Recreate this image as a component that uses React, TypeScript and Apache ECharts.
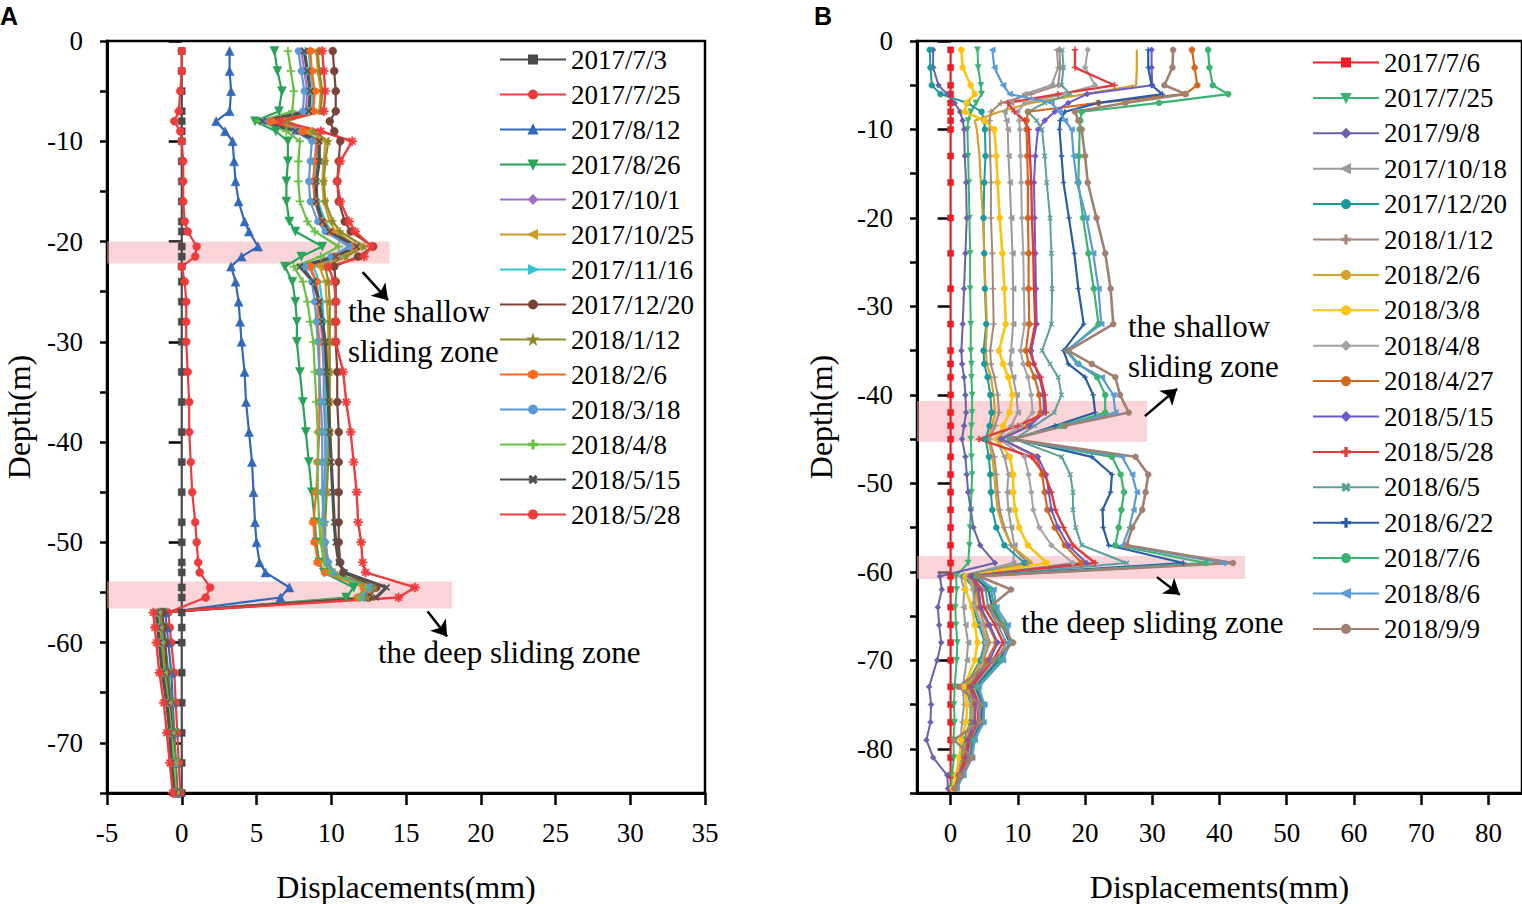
import React, { useEffect, useRef } from "react";
import * as echarts from "echarts";

const FONT = "Liberation Serif";

// ---------------- Panel A data ----------------
const depthA = [-1, -3, -5, -7, -8, -9, -10, -12, -14, -16, -18, -19, -20.5, -21.5, -22.5, -24, -26, -28, -30, -33, -36, -39, -42, -45, -48, -50, -52, -53, -54.5, -55.5, -57, -58.5, -60, -63, -66, -69, -72, -75];
const datesA = ["2017/7/3", "2017/7/25", "2017/8/12", "2017/8/26", "2017/10/1", "2017/10/25", "2017/11/16", "2017/12/20", "2018/1/12", "2018/2/6", "2018/3/18", "2018/4/8", "2018/5/15", "2018/5/28"];
const A_2017_7_3 = [0, 0, 0, 0, 0, 0, 0, 0, 0, 0, 0, 0, 0, 0, 0, 0, 0, 0, 0, 0, 0, 0, 0, 0, 0, 0, 0, 0, 0, 0, 0, 0, 0, 0, 0, 0, 0, 0];
const A_2017_7_25 = [0, 0, -0.1, -0.2, -0.5, -0.1, 0, 0.1, 0.1, 0.1, 0.2, 0.4, 1.0, 0.9, 0, 0.2, 0.3, 0.3, 0.3, 0.4, 0.5, 0.5, 0.6, 0.7, 0.9, 1.0, 1.1, 1.2, 1.9, 1.6, -0.9, -0.8, -0.7, -0.5, -0.4, -0.3, -0.2, -0.1];
const A_2017_8_12 = [3.2, 3.2, 3.3, 3.2, 2.3, 2.9, 3.4, 3.5, 3.6, 3.8, 4.2, 4.5, 5.1, 4.0, 3.3, 3.6, 3.8, 3.9, 4.0, 4.2, 4.3, 4.5, 4.7, 4.8, 4.9, 5.0, 5.2, 5.6, 7.2, 6.6, -1.1, -1.0, -0.9, -0.7, -0.6, -0.5, -0.4, -0.3];
const A_2017_8_26 = [6.2, 6.4, 6.7, 6.5, 4.9, 6.3, 7.1, 7.1, 7.0, 7.0, 7.2, 7.6, 9.4, 8.0, 6.9, 7.4, 7.6, 7.7, 7.7, 7.9, 8.1, 8.3, 8.5, 8.7, 8.9, 9.0, 9.2, 9.5, 11.5, 11.0, -1.3, -1.2, -1.1, -0.9, -0.7, -0.5, -0.4, -0.3];
const A_2017_10_1 = [8.0, 8.2, 8.4, 8.3, 5.8, 7.8, 9.0, 8.9, 8.8, 8.9, 9.3, 9.8, 11.3, 10.2, 8.5, 9.0, 9.2, 9.3, 9.4, 9.5, 9.5, 9.6, 9.6, 9.5, 9.4, 9.5, 9.7, 10.0, 12.6, 12.2, -1.4, -1.3, -1.2, -1.0, -0.8, -0.6, -0.5, -0.3];
const A_2017_10_25 = [9.0, 9.1, 9.3, 9.2, 6.6, 8.5, 9.6, 9.5, 9.4, 9.5, 9.9, 10.3, 11.8, 10.8, 9.2, 9.6, 9.7, 9.8, 9.8, 9.8, 9.8, 9.8, 9.7, 9.6, 9.4, 9.4, 9.6, 10.0, 12.8, 12.3, -1.5, -1.4, -1.3, -1.0, -0.8, -0.6, -0.5, -0.4];
const A_2017_11_16 = [8.5, 8.6, 8.8, 8.7, 6.2, 8.2, 9.2, 9.0, 9.0, 9.1, 9.6, 10.0, 11.6, 10.5, 8.8, 9.2, 9.4, 9.5, 9.5, 9.6, 9.6, 9.7, 9.7, 9.6, 9.5, 9.6, 9.8, 10.1, 12.9, 12.4, -1.5, -1.4, -1.3, -1.1, -0.9, -0.7, -0.5, -0.4];
const A_2017_12_20 = [10.1, 10.2, 10.3, 10.3, 9.9, 10.2, 10.6, 10.5, 10.4, 10.5, 10.9, 11.3, 12.8, 11.8, 10.2, 10.3, 10.3, 10.3, 10.3, 10.4, 10.4, 10.5, 10.5, 10.5, 10.5, 10.5, 10.6, 10.8, 13.0, 12.5, -1.3, -1.2, -1.1, -1.0, -0.8, -0.6, -0.5, -0.3];
const A_2018_1_12 = [9.1, 9.2, 9.4, 9.3, 7.0, 8.8, 9.8, 9.6, 9.5, 9.6, 10.1, 10.6, 12.2, 11.0, 9.6, 9.8, 9.9, 9.9, 9.9, 9.9, 9.9, 9.9, 9.8, 9.7, 9.6, 9.6, 9.8, 10.2, 12.9, 12.4, -1.5, -1.4, -1.3, -1.1, -0.9, -0.7, -0.5, -0.4];
const A_2018_2_6 = [8.6, 8.7, 8.9, 8.8, 6.0, 8.1, 9.1, 8.9, 8.8, 8.9, 9.4, 9.9, 11.5, 10.3, 8.6, 9.0, 9.1, 9.1, 9.2, 9.2, 9.2, 9.2, 9.1, 9.0, 8.8, 8.9, 9.1, 9.6, 12.2, 11.8, -1.6, -1.5, -1.4, -1.2, -0.9, -0.7, -0.5, -0.4];
const A_2018_3_18 = [7.8, 8.0, 8.2, 8.1, 5.4, 7.6, 8.7, 8.6, 8.5, 8.6, 9.1, 9.6, 11.2, 10.0, 8.2, 8.7, 8.9, 9.0, 9.1, 9.2, 9.3, 9.4, 9.4, 9.4, 9.5, 9.6, 9.8, 10.1, 12.5, 12.0, -1.6, -1.5, -1.4, -1.2, -0.9, -0.7, -0.5, -0.4];
const A_2018_4_8 = [7.1, 7.3, 7.5, 7.4, 5.2, 7.0, 7.9, 7.8, 7.8, 7.9, 8.4, 8.9, 10.5, 9.3, 7.5, 8.1, 8.4, 8.6, 8.8, 8.9, 9.0, 9.1, 9.1, 9.1, 9.2, 9.3, 9.5, 9.9, 12.3, 11.9, -1.6, -1.5, -1.4, -1.2, -0.9, -0.7, -0.5, -0.4];
const A_2018_5_15 = [8.2, 8.4, 8.6, 8.5, 5.4, 7.6, 9.2, 9.2, 9.0, 9.0, 9.4, 9.9, 11.7, 10.3, 7.9, 8.8, 9.2, 9.4, 9.6, 9.7, 9.8, 9.9, 10.0, 10.1, 10.2, 10.3, 10.5, 10.9, 13.7, 13.0, -1.7, -1.6, -1.5, -1.3, -1.0, -0.8, -0.7, -0.5];
const A_2018_5_28 = [9.4, 9.5, 9.6, 9.5, 6.6, 9.3, 11.4, 10.6, 10.4, 10.6, 11.2, 11.6, 12.7, 12.2, 9.8, 10.2, 10.3, 10.3, 10.3, 10.8, 11.0, 11.3, 11.5, 11.7, 11.8, 12.0, 12.1, 12.3, 15.6, 14.5, -1.9, -1.8, -1.7, -1.5, -1.2, -1.0, -0.8, -0.6];
const valuesA = [A_2017_7_3, A_2017_7_25, A_2017_8_12, A_2017_8_26, A_2017_10_1, A_2017_10_25, A_2017_11_16, A_2017_12_20, A_2018_1_12, A_2018_2_6, A_2018_3_18, A_2018_4_8, A_2018_5_15, A_2018_5_28];
const ticksA_x = [-5, 0, 5, 10, 15, 20, 25, 30, 35];
const ticksA_y = [-70, -60, -50, -40, -30, -20, -10, 0];
// sliding zone bands [depthTop, depthBottom, xRight]
const bandsA = [[-20, -22.2, 13.9], [-53.9, -56.6, 18.1]];
// arrows [x1, d1, x2, d2]
const arrowsA = [[12.1, -23.05, 13.8, -25.85], [16.45, -56.9, 17.75, -59.4]];

// ---------------- Panel B data ----------------
const depthB = [-1, -3, -5, -6, -7, -8, -9, -10, -13, -16, -20, -24, -28, -32, -35, -36.5, -38, -40, -42, -43.5, -45, -47, -49, -51, -53, -55, -57, -59, -60.5, -62, -64, -66, -68, -70, -73, -75, -77, -79, -81, -83, -84.5];
const datesB = ["2017/7/6", "2017/7/25", "2017/9/8", "2017/10/18", "2017/12/20", "2018/1/12", "2018/2/6", "2018/3/8", "2018/4/8", "2018/4/27", "2018/5/15", "2018/5/28", "2018/6/5", "2018/6/22", "2018/7/6", "2018/8/6", "2018/9/9"];
const B_2017_7_6 = [0, 0, 0, 0, 0, 0, 0, 0, 0, 0, 0, 0, 0, 0, 0, 0, 0, 0, 0, 0, 0, 0, 0, 0, 0, 0, 0, 0, 0, 0, 0, 0, 0, 0, 0, 0, 0, 0, 0, 0, 0];
const B_2017_7_25 = [4.0, 4.1, 4.5, 4.6, 3.8, 3.0, 2.6, 2.5, 2.6, 2.7, 2.8, 2.9, 2.9, 3.0, 3.0, 3.1, 3.1, 3.2, 3.2, 3.1, 3.0, 3.1, 3.2, 3.1, 3.0, 2.9, 2.8, 2.6, 0.8, 0.9, 0.7, 0.8, 1.0, 0.9, 0.6, 0.5, 0.6, 0.4, 0.5, 0.2, 0.1];
const B_2017_9_8 = [-2.6, -2.6, -1.8, -0.5, 0.6, 1.4, 1.8, 2.0, 2.1, 2.3, 2.4, 2.2, 2.0, 1.8, 1.6, 1.7, 2.0, 2.2, 2.3, 2.0, 1.7, 2.2, 2.4, 2.6, 3.0, 3.4, 4.4, 6.6, -1.6, -1.3, -1.9, -1.7, -1.4, -2.0, -3.2, -2.9, -3.0, -3.6, -2.6, -0.5, -0.4];
const B_2017_10_18 = [15.8, 16.0, 15.0, 11.0, 9.0, 8.0, 8.3, 8.5, 8.6, 8.8, 9.0, 9.2, 9.3, 9.3, 9.0, 8.8, 9.3, 9.8, 10.0, 9.0, 6.8, 8.0, 8.6, 8.4, 8.6, 9.0, 9.5, 9.3, 1.5, 2.0, 1.9, 2.2, 2.6, 2.4, 1.8, 2.0, 1.7, 1.5, 1.6, 0.9, 0.6];
const B_2017_12_20 = [-3.1, -3.0, -2.8, -1.5, 2.5, 4.6, 5.0, 5.1, 5.2, 5.0, 4.9, 5.0, 5.1, 5.3, 4.9, 5.0, 5.5, 5.9, 6.1, 5.8, 5.2, 5.7, 5.9, 6.0, 6.2, 6.8, 8.0, 11.0, 2.0, 3.6, 3.3, 4.2, 5.1, 4.4, 2.2, 3.0, 2.9, 2.0, 1.6, 1.0, 0.5];
const B_2018_1_12 = [16.2, 16.3, 16.0, 12.0, 7.5, 6.0, 5.8, 5.8, 5.9, 6.0, 6.0, 6.2, 6.3, 6.4, 5.9, 6.0, 6.5, 7.0, 7.2, 6.6, 5.8, 6.5, 6.8, 7.0, 7.3, 8.0, 9.0, 11.5, 2.2, 4.0, 4.2, 5.0, 5.8, 4.9, 2.5, 3.5, 3.2, 2.3, 1.9, 1.2, 0.5];
const B_2018_2_6 = [27.7, 27.7, 27.6, 20.0, 12.0, 7.3, 3.6, 3.9, 4.3, 4.5, 4.8, 5.0, 5.2, 5.4, 5.2, 5.4, 6.0, 6.4, 6.6, 6.2, 5.6, 6.2, 6.5, 6.7, 7.0, 7.8, 9.0, 12.2, 2.5, 3.8, 3.7, 4.6, 5.5, 4.6, 2.4, 3.2, 3.0, 2.2, 1.8, 1.1, 0.5];
const B_2018_3_8 = [1.6, 1.8, 3.0, 3.6, 2.4, 2.1, 5.0, 6.5, 6.8, 7.0, 7.3, 7.7, 8.0, 8.2, 7.2, 7.8, 8.6, 9.2, 8.8, 7.8, 6.9, 8.8, 9.3, 9.3, 9.6, 10.2, 11.5, 14.3, 2.2, 2.2, 3.2, 3.6, 4.0, 3.6, 2.0, 2.5, 2.3, 1.6, 1.3, 0.8, 0.3];
const B_2018_4_8 = [20.4, 20.0, 21.5, 17.0, 11.0, 10.0, 10.2, 10.3, 10.4, 10.5, 10.6, 10.8, 10.9, 11.0, 10.4, 10.8, 11.5, 12.0, 12.2, 10.5, 7.2, 11.0, 11.6, 12.0, 12.3, 13.2, 15.0, 18.2, 2.6, 3.3, 3.6, 4.6, 5.2, 4.8, 2.9, 3.1, 3.4, 2.7, 2.3, 1.3, 0.6];
const B_2018_4_27 = [35.9, 36.3, 36.7, 34.9, 22.0, 11.5, 11.3, 11.3, 11.4, 11.5, 11.5, 11.6, 11.6, 11.7, 11.2, 11.6, 12.5, 13.2, 13.4, 11.5, 7.5, 12.8, 13.6, 14.0, 14.4, 15.5, 17.0, 19.5, 3.0, 4.0, 4.3, 5.6, 6.8, 5.4, 2.8, 3.6, 3.5, 2.5, 2.0, 1.2, 0.6];
const B_2018_5_15 = [29.9, 29.9, 30.0, 20.3, 17.5, 15.5, 14.0, 13.0, 12.6, 12.4, 12.5, 12.6, 12.7, 12.8, 12.0, 12.4, 13.2, 13.8, 13.9, 11.8, 7.6, 13.0, 14.2, 14.6, 15.0, 16.0, 17.5, 20.2, 3.0, 4.2, 4.5, 5.8, 7.0, 5.8, 3.0, 3.8, 3.6, 2.6, 2.2, 1.3, 0.6];
const B_2018_5_28 = [18.5, 18.5, 24.4, 16.0, 8.5, 9.5, 11.0, 11.6, 11.8, 12.0, 12.1, 12.3, 12.4, 12.6, 11.8, 12.4, 13.4, 14.0, 14.2, 10.0, 4.2, 12.0, 14.0, 15.0, 15.6, 16.8, 18.2, 21.5, 3.3, 4.6, 5.0, 6.6, 7.8, 6.3, 3.2, 4.2, 4.0, 2.9, 2.4, 1.5, 0.7];
const B_2018_6_5 = [16.6, 16.8, 16.5, 17.8, 14.0, 11.5, 12.8, 13.6, 14.0, 14.3, 14.8, 15.0, 15.1, 15.0, 13.6, 14.8, 16.0, 16.5, 15.4, 12.5, 9.5, 16.5, 17.8, 18.2, 18.2, 18.6, 19.5, 26.2, 3.8, 5.2, 5.6, 7.0, 8.3, 6.8, 3.6, 4.6, 4.4, 3.2, 2.8, 1.7, 0.8];
const B_2018_6_22 = [29.4, 29.4, 29.9, 31.5, 22.0, 17.0, 16.3, 16.2, 16.5, 16.8, 17.6, 18.4, 19.0, 19.8, 16.8, 17.5, 20.0, 21.2, 21.5, 15.5, 9.5, 21.0, 24.0, 23.8, 22.6, 22.7, 23.5, 34.6, 3.5, 5.6, 6.2, 7.6, 8.8, 7.2, 3.8, 4.8, 4.6, 3.4, 3.0, 1.8, 0.8];
const B_2018_7_6 = [38.3, 38.5, 39.0, 41.3, 31.0, 19.5, 19.3, 19.2, 19.1, 19.0, 19.7, 20.5, 21.3, 22.0, 17.4, 19.0, 21.8, 23.0, 23.0, 16.5, 8.8, 24.0, 25.3, 25.8, 25.4, 25.0, 24.5, 38.0, 3.8, 6.0, 6.5, 8.0, 9.0, 7.5, 4.0, 5.0, 4.8, 3.5, 3.1, 1.8, 0.8];
const B_2018_8_6 = [6.2, 6.5, 7.8, 8.8, 15.0, 16.2, 17.0, 18.0, 18.3, 18.8, 20.2, 21.2, 22.0, 22.4, 17.2, 18.8, 22.5, 24.2, 24.5, 16.8, 9.0, 25.5, 27.0, 27.7, 27.2, 26.6, 25.6, 40.5, 4.0, 6.4, 6.8, 8.5, 8.8, 7.8, 4.2, 5.0, 4.9, 3.6, 3.2, 1.9, 0.9];
const B_2018_9_9 = [33.1, 33.0, 31.8, 35.0, 26.0, 18.5, 19.0, 19.5, 20.0, 20.4, 21.7, 23.0, 23.8, 24.2, 17.5, 21.0, 24.5, 25.2, 26.5, 17.0, 9.2, 27.5, 29.4, 29.0, 28.5, 27.0, 26.2, 42.0, 4.2, 9.0, 5.8, 7.5, 9.3, 6.3, 1.2, 4.3, 4.3, 0.5, 3.2, 1.5, 0.7];
const valuesB = [B_2017_7_6, B_2017_7_25, B_2017_9_8, B_2017_10_18, B_2017_12_20, B_2018_1_12, B_2018_2_6, B_2018_3_8, B_2018_4_8, B_2018_4_27, B_2018_5_15, B_2018_5_28, B_2018_6_5, B_2018_6_22, B_2018_7_6, B_2018_8_6, B_2018_9_9];
const ticksB_x = [0, 10, 20, 30, 40, 50, 60, 70, 80];
const ticksB_y = [-80, -70, -60, -50, -40, -30, -20, -10, 0];
const bandsB = [[-40.7, -45.3, 29.2], [-58.2, -60.8, 43.8]];
const arrowsB = [[28.9, -42.4, 33.7, -39.3], [30.7, -60.6, 34.1, -62.6]];

// ---------------- symbols & styles ----------------
const PLUS = "path://M-0.8,-5L0.8,-5L0.8,-0.8L5,-0.8L5,0.8L0.8,0.8L0.8,5L-0.8,5L-0.8,0.8L-5,0.8L-5,-0.8L-0.8,-0.8Z";
const ASTER = "path://M-0.8,-5L0.8,-5L0.8,5L-0.8,5Z M-5,-0.8L5,-0.8L5,0.8L-5,0.8Z M4.11,2.97L2.97,4.11L-4.11,-2.97L-2.97,-4.11Z M4.11,-2.97L-2.97,4.11L-4.11,2.97L2.97,-4.11Z";
const HEX = "path://M0,-5L4.33,-2.5L4.33,2.5L0,5L-4.33,2.5L-4.33,-2.5Z";
const STAR = "path://M0,-5L1.18,-1.62L4.76,-1.55L1.9,0.62L2.94,4.05L0,2L-2.94,4.05L-1.9,0.62L-4.76,-1.55L-1.18,-1.62Z";

const styleA: [string, string, number, number, number][] = [
  ["#4a4a4a", "rect", 0, 7, 2.2],
  ["#ef3b3b", "circle", 0, 8, 2.2],
  ["#3468b8", "triangle", 0, 9, 2.2],
  ["#2aa35a", "triangle", 180, 9, 2.2],
  ["#a070c8", "diamond", 0, 8, 2.2],
  ["#cf9a2a", "triangle", 90, 8, 2.2],
  ["#2ec4d0", "triangle", -90, 8, 2.2],
  ["#7a4538", "circle", 0, 8, 2.2],
  ["#8c8c28", STAR, 0, 8, 2.2],
  ["#ff6a1a", HEX, 0, 8, 2.2],
  ["#5b9bd5", "circle", 0, 7, 2.2],
  ["#6cbf45", PLUS, 0, 8, 2.2],
  ["#505050", PLUS, 45, 8, 3.2],
  ["#f03c3c", ASTER, 0, 9, 2.4],
];
const styleB: [string, string, number, number, number][] = [
  ["#ee1c25", "rect", 0, 6, 2.2],
  ["#3cb371", "triangle", 180, 6, 2],
  ["#6a62aa", "diamond", 0, 6, 2],
  ["#9a9a9a", "triangle", 90, 6, 2],
  ["#1a9a9a", "circle", 0, 6, 2],
  ["#a58a7d", PLUS, 0, 6, 2],
  ["#d6a22a", "none", 0, 5, 2.2],
  ["#ffc20e", "circle", 0, 6, 2.6],
  ["#a3a3a3", "diamond", 0, 6, 2],
  ["#d2691e", "circle", 0, 6, 2.2],
  ["#6a5acd", "diamond", 0, 6, 2],
  ["#e03a3a", PLUS, 0, 6, 2.4],
  ["#5f9e9a", PLUS, 45, 6, 2],
  ["#2b5ca8", PLUS, 0, 5, 2.2],
  ["#3cb371", "circle", 0, 6, 2.2],
  ["#5b9bd5", "triangle", 90, 6, 2.2],
  ["#a08070", "circle", 0, 6, 2.6],
];

const textBase = { fontFamily: FONT, color: "#000" };

function buildOption(p: {
  depth: number[]; dates: string[]; values: number[][]; styles: [string, string, number, number, number][];
  xMin: number; xMax: number; xTicks: number[]; xInterval?: number; yMin: number; yTicks: number[];
  bands: number[][]; arrows: number[][]; grid: any; legend: any; texts: any[]; letter: any; yNameGap: number;
}) {
  const series: any[] = p.dates.map((d, i) => {
    const [color, symbol, rot, size, lw] = p.styles[i];
    const s: any = {
      type: "line",
      name: d,
      xAxisIndex: 0,
      yAxisIndex: 0,
      data: p.values[i].map((v, k) => [v, p.depth[k]]),
      symbol,
      symbolRotate: rot,
      symbolSize: size,
      showSymbol: symbol !== "none",
      lineStyle: { color, width: lw },
      itemStyle: { color, borderColor: color, borderWidth: 0.5 },
      emphasis: { disabled: true },
      z: 3,
      silent: true,
    };
    if (i === 0) {
      s.markArea = {
        silent: true,
        itemStyle: { color: "rgba(244,170,180,0.5)" },
        data: p.bands.map((b) => [{ xAxis: p.xMin, yAxis: b[0] }, { xAxis: b[2], yAxis: b[1] }]),
      };
      s.markLine = {
        silent: true,
        symbol: ["none", "arrow"],
        symbolSize: 15,
        label: { show: false },
        lineStyle: { color: "#000", width: 2.5, type: "solid" },
        data: p.arrows.map((a) => [{ coord: [a[0], a[1]] }, { coord: [a[2], a[3]] }]),
      };
    }
    return s;
  });

  const tickStyle = { color: "#000", width: 2.5 };
  const xAxis: any = {
    type: "value",
    min: p.xMin,
    max: p.xMax,
    axisLine: { onZero: false, lineStyle: { color: "#000", width: 3 } },
    axisTick: { length: 12, lineStyle: tickStyle, customValues: p.xTicks },
    axisLabel: { ...textBase, fontSize: 27, margin: 26, customValues: p.xTicks },
    splitLine: { show: false },
    name: "Displacements(mm)",
    nameLocation: "middle",
    nameGap: 78,
    nameTextStyle: { ...textBase, fontSize: 32 },
  };
  if (p.xInterval) xAxis.interval = p.xInterval;
  const yAxis: any[] = [
    {
      type: "value",
      min: p.yMin,
      max: 0,
      interval: 5,
      position: "left",
      axisLine: { onZero: false, lineStyle: { color: "#000", width: 3 } },
      axisTick: { length: 7, lineStyle: tickStyle },
      axisLabel: { ...textBase, fontSize: 27, margin: 24, formatter: (v: number) => (v % 10 === 0 ? String(v) : "") },
      splitLine: { show: false },
      name: "Depth(m)",
      nameLocation: "middle",
      nameGap: p.yNameGap,
      nameTextStyle: { ...textBase, fontSize: 32 },
    },
    {
      type: "value",
      min: p.yMin,
      max: 0,
      position: "left",
      offset: 0,
      axisLine: { show: false },
      axisTick: { show: true, length: 13, lineStyle: tickStyle, customValues: p.yTicks },
      axisLabel: { show: false },
      splitLine: { show: false },
    },
  ];

  return {
    animation: false,
    grid: { ...p.grid, show: true, borderColor: "#000", borderWidth: 2.5, containLabel: false, outerBoundsMode: "none" },
    xAxis,
    yAxis,
    legend: {
      data: p.dates,
      orient: "vertical",
      itemWidth: 66,
      itemHeight: 10,
      padding: 0,
      selectedMode: false,
      textStyle: { ...textBase, fontSize: 27 },
      ...p.legend,
    },
    series,
    graphic: [p.letter, ...p.texts],
  };
}

function annot(x: number, y: number, text: string) {
  return {
    type: "text",
    x,
    y,
    silent: true,
    style: { text, fontFamily: FONT, fontSize: 31, fill: "#000", align: "left", verticalAlign: "middle", lineHeight: 40 },
  };
}
function letter(x: number, t: string) {
  return {
    type: "text",
    x,
    y: 16,
    silent: true,
    style: { text: t, fontFamily: "Liberation Sans", fontWeight: "bold", fontSize: 25, fill: "#000", align: "left", verticalAlign: "middle" },
  };
}

const optionA = buildOption({
  depth: depthA, dates: datesA, values: valuesA, styles: styleA,
  xMin: -5, xMax: 35, xTicks: ticksA_x, xInterval: 5, yMin: -75, yTicks: ticksA_y,
  bands: bandsA, arrows: arrowsA,
  grid: { left: 107, top: 41, width: 598, height: 752 },
  legend: { left: 499, top: 46, itemGap: 8 },
  texts: [annot(348, 331, "the shallow\nsliding zone"), annot(378, 652, "the deep sliding zone")],
  letter: letter(0, "A"),
  yNameGap: 72,
});

const optionB = buildOption({
  depth: depthB, dates: datesB, values: valuesB, styles: styleB,
  xMin: -5, xMax: 85, xTicks: ticksB_x, yMin: -85, yTicks: ticksB_y,
  bands: bandsB, arrows: arrowsB,
  grid: { left: 117, top: 41, width: 605, height: 752 },
  legend: { left: 512, top: 49, itemGap: 8.4 },
  texts: [annot(328, 346, "the shallow\nsliding zone"), annot(221, 622, "the deep sliding zone")],
  letter: letter(14, "B"),
  yNameGap: 80,
});

function Chart({ option, left, width }: { option: any; left: number; width: number }) {
  const ref = useRef<HTMLDivElement>(null);
  useEffect(() => {
    const chart = echarts.init(ref.current!, null, { renderer: "svg" });
    chart.setOption(option);
    return () => chart.dispose();
  }, [option]);
  return <div ref={ref} style={{ position: "absolute", left, top: 0, width, height: 904 }} />;
}

export default function App() {
  return (
    <div style={{ position: "absolute", left: 0, top: 0, width: 1522, height: 904, background: "#fff", overflow: "hidden" }}>
      <Chart option={optionA} left={0} width={800} />
      <Chart option={optionB} left={800} width={722} />
    </div>
  );
}
